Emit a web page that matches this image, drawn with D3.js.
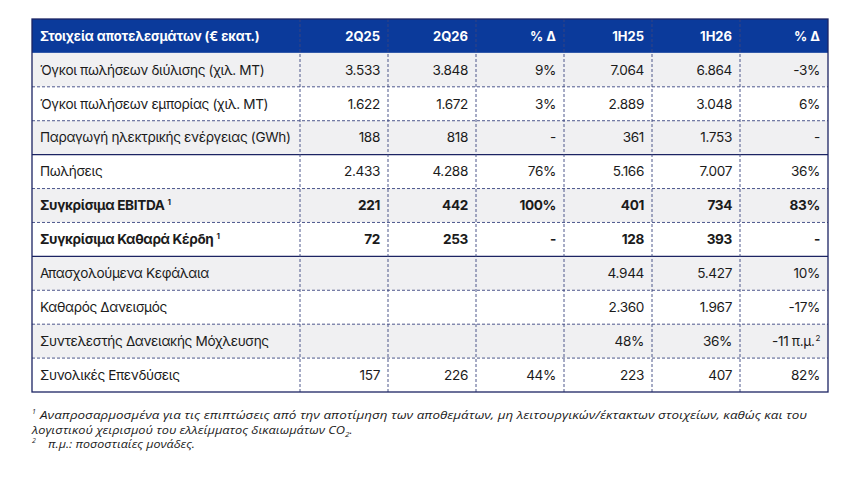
<!DOCTYPE html>
<html>
<head>
<meta charset="utf-8">
<script src="https://cdn.jsdelivr.net/npm/d3@7"></script>
<style>
  html, body { margin: 0; padding: 0; background: #fff; }
  svg { display: block; }
</style>
</head>
<body>
<div id="chart"></div>
<script>
// ---------- DATA ----------
const headers = ["Στοιχεία αποτελεσμάτων (€ εκατ.)", "2Q25", "2Q26", "% Δ", "1H25", "1H26", "% Δ"];
const rowLabels = [
  "Όγκοι πωλήσεων διύλισης (χιλ. MT)",
  "Όγκοι πωλήσεων εμπορίας (χιλ. MT)",
  "Παραγωγή ηλεκτρικής ενέργειας (GWh)",
  "Πωλήσεις",
  "Συγκρίσιμα EBITDA",
  "Συγκρίσιμα Καθαρά Κέρδη",
  "Απασχολούμενα Κεφάλαια",
  "Καθαρός Δανεισμός",
  "Συντελεστής Δανειακής Μόχλευσης",
  "Συνολικές Επενδύσεις"
];
const rowNotes = [null, null, null, null, "1", "1", null, null, null, null];
const boldRows = [false, false, false, false, true, true, false, false, false, false];
const rowUnits = ["num", "num", "num", "num", "num", "num", "num", "num", "pct", "num"];
const q2_25 = [3533, 1622, 188, 2433, 221, 72, null, null, null, 157];
const q2_26 = [3848, 1672, 818, 4288, 442, 253, null, null, null, 226];
const qDelta = [9, 3, "-", 76, 100, "-", null, null, null, 44];
const h1_25 = [7064, 2889, 361, 5166, 401, 128, 4944, 2360, 48, 223];
const h1_26 = [6864, 3048, 1753, 7007, 734, 393, 5427, 1967, 36, 407];
const hDelta = [-3, 6, "-", 36, 83, "-", 10, -17, -11, 82];
const solidAfterRows = [2, 5];
const footnotes = [
  { mark: "1", text: "Αναπροσαρμοσμένα για τις επιπτώσεις από την αποτίμηση των αποθεμάτων, μη λειτουργικών/έκτακτων στοιχείων, καθώς και του" },
  { mark: null, text: "λογιστικού χειρισμού του ελλείμματος δικαιωμάτων CO", sub: "2", tail: "." },
  { mark: "2", text: "π.μ.: ποσοστιαίες μονάδες." }
];

// ---------- LAYOUT ----------
const W = 859, H = 479;
const TL = 32, TR = 828, TT = 19, TB = 392, labelRight = 300;
const NAVY = "#0b3a9b", LINE = "#1c2463", GRAY = "#f0f0f2", TXT = "#1b1b1b";
const FONT = "Inter, 'Noto Sans', sans-serif";
const BODY_SIZE = 13.6, BODY_LS = -0.35;

const locale = d3.formatLocale({ decimal: ",", thousands: ".", grouping: [3], currency: ["€", ""], minus: "-" });
const fmtNum = locale.format(",d");

const valueCols = [q2_25, q2_26, qDelta, h1_25, h1_26, hDelta];
const isDelta = [false, false, true, false, false, true];

const svg = d3.select("#chart").append("svg")
  .attr("width", W).attr("height", H)
  .attr("font-family", FONT);

svg.append("rect").attr("width", W).attr("height", H).attr("fill", "#fff");

const yS = d3.scaleBand().domain(["header", ...rowLabels.map((d, i) => i)]).range([TT, TB]);
const xS = d3.scaleBand().domain(d3.range(valueCols.length)).range([labelRight, TR]);

// row backgrounds
svg.append("rect").attr("x", TL).attr("y", yS("header")).attr("width", TR - TL)
  .attr("height", yS.bandwidth()).attr("fill", NAVY);
svg.selectAll("rect.rowbg").data(rowLabels).join("rect")
  .attr("class", "rowbg")
  .attr("x", TL).attr("y", (d, i) => yS(i))
  .attr("width", TR - TL).attr("height", yS.bandwidth())
  .attr("fill", (d, i) => i % 2 === 0 ? GRAY : "#fff");

// horizontal separators
const hLines = d3.range(rowLabels.length - 1);
svg.selectAll("line.h").data(hLines).join("line")
  .attr("class", "h")
  .attr("x1", TL).attr("x2", TR)
  .attr("y1", i => yS(i) + yS.bandwidth()).attr("y2", i => yS(i) + yS.bandwidth())
  .attr("stroke", i => solidAfterRows.includes(i) ? LINE : "#3a4580")
  .attr("stroke-width", i => solidAfterRows.includes(i) ? 1.2 : 0.9)
  .attr("stroke-dasharray", i => solidAfterRows.includes(i) ? null : "3,2");

// vertical separators
const vEdges = [labelRight, ...d3.range(1, valueCols.length).map(c => xS(c))];
svg.selectAll("line.v").data(vEdges).join("line")
  .attr("class", "v")
  .attr("x1", d => d).attr("x2", d => d)
  .attr("y1", TT).attr("y2", TB)
  .attr("stroke", "#3a4580").attr("stroke-width", 0.9)
  .attr("stroke-dasharray", "3,2");

// outer border
svg.append("rect").attr("x", TL).attr("y", TT)
  .attr("width", TR - TL).attr("height", TB - TT)
  .attr("fill", "none").attr("stroke", LINE).attr("stroke-width", 1.3);

// header text
const hy = yS("header") + yS.bandwidth() / 2;
svg.append("text").attr("x", TL + 8).attr("y", hy).attr("dy", "0.35em")
  .attr("fill", "#fff").attr("font-weight", 700).attr("font-size", 13)
  .attr("letter-spacing", -0.1)
  .text(headers[0]);
svg.selectAll("text.hcol").data(headers.slice(1)).join("text")
  .attr("class", "hcol")
  .attr("x", (d, i) => xS(i) + xS.bandwidth() - 8).attr("y", hy).attr("dy", "0.35em")
  .attr("text-anchor", "end").attr("fill", "#fff").attr("font-weight", 700).attr("font-size", 13)
  .text(d => d);

// row labels
const labels = svg.selectAll("text.lbl").data(rowLabels.map((d, i) => ({ d, i }))).join("text")
  .attr("class", "lbl")
  .attr("x", TL + 8).attr("y", o => yS(o.i) + yS.bandwidth() / 2).attr("dy", "0.35em")
  .attr("fill", TXT).attr("font-size", BODY_SIZE).attr("letter-spacing", BODY_LS)
  .attr("font-weight", o => boldRows[o.i] ? 700 : 400);
labels.append("tspan").text(o => o.d);
labels.filter(o => rowNotes[o.i]).append("tspan")
  .attr("font-size", 8).attr("dx", 3).attr("dy", "-0.6em")
  .text(o => rowNotes[o.i]);

// cells
function cellParts(v, r, c) {
  if (v === null || v === undefined) return null;
  if (v === "-") return { main: "-" };
  if (isDelta[c]) {
    if (rowUnits[r] === "pct") return { main: locale.format("d")(v) + " π.μ.", sup: "2" };
    return { main: locale.format("d")(v) + "%" };
  }
  if (rowUnits[r] === "pct") return { main: locale.format("d")(v) + "%" };
  return { main: fmtNum(v) };
}
const cells = [];
valueCols.forEach((col, c) => col.forEach((v, r) => {
  const p = cellParts(v, r, c);
  if (p) cells.push({ r, c, ...p });
}));
const ct = svg.selectAll("text.cell").data(cells).join("text")
  .attr("class", "cell")
  .attr("x", d => xS(d.c) + xS.bandwidth() - 8)
  .attr("y", d => yS(d.r) + yS.bandwidth() / 2).attr("dy", "0.35em")
  .attr("text-anchor", "end").attr("fill", TXT).attr("font-size", BODY_SIZE)
  .attr("letter-spacing", BODY_LS)
  .attr("font-weight", d => boldRows[d.r] ? 700 : 400);
ct.append("tspan").text(d => d.main);
ct.filter(d => d.sup).append("tspan")
  .attr("font-size", 8).attr("dx", 1).attr("dy", "-0.6em").text(d => d.sup);

// footnotes
const fnY = [419, 433.5, 448];
const FN_SIZE = 11.6;
const fn = svg.append("g").attr("font-family", "'Open Sans', 'Noto Sans', sans-serif")
  .attr("font-style", "italic").attr("fill", "#1b1b1b");
fn.append("text").attr("x", 32).attr("y", fnY[0] - 5).attr("font-size", 7).text(footnotes[0].mark);
fn.append("text").attr("x", 40).attr("y", fnY[0]).attr("font-size", FN_SIZE)
  .attr("textLength", 767).attr("lengthAdjust", "spacingAndGlyphs").text(footnotes[0].text);
const l2 = fn.append("text").attr("x", 32).attr("y", fnY[1]).attr("font-size", FN_SIZE);
l2.append("tspan").attr("textLength", 313).attr("lengthAdjust", "spacingAndGlyphs").text(footnotes[1].text);
l2.append("tspan").attr("font-size", 8).attr("dy", 3).text(footnotes[1].sub);
l2.append("tspan").attr("dy", -3).text(footnotes[1].tail);
fn.append("text").attr("x", 32).attr("y", fnY[2] - 5).attr("font-size", 7).text(footnotes[2].mark);
fn.append("text").attr("x", 48).attr("y", fnY[2]).attr("font-size", FN_SIZE)
  .attr("textLength", 147).attr("lengthAdjust", "spacingAndGlyphs").text(footnotes[2].text);
</script>
</body>
</html>
